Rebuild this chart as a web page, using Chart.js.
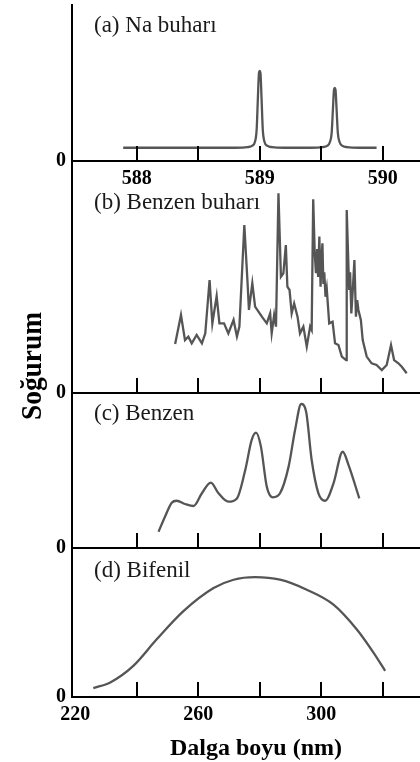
<!DOCTYPE html>
<html>
<head>
<meta charset="utf-8">
<script src="https://cdn.jsdelivr.net/npm/chart.js@4.4.1/dist/chart.umd.min.js"></script>
<style>
  html, body { margin: 0; padding: 0; background: #fff; }
  #wrap { position: relative; width: 420px; height: 762px; overflow: hidden; }
  #wrap canvas { position: absolute; left: 0; top: 0; }
</style>
</head>
<body>
<div id="wrap">
  <canvas id="chartA" width="420" height="762"></canvas>
  <canvas id="chartB" width="420" height="762"></canvas>
  <canvas id="chartC" width="420" height="762"></canvas>
  <canvas id="chartD" width="420" height="762"></canvas>
</div>
<script>
// ---------------- data ----------------
// (a) Na vapour, wavelength axis 588-590 nm
const naWave = [587.89, 588.30, 588.70, 588.80, 588.90, 588.94, 588.96, 588.975, 588.985, 588.994, 589.0, 589.006, 589.015, 589.025, 589.04, 589.06, 589.10, 589.20,
                589.41, 589.51, 589.55, 589.57, 589.585, 589.595, 589.604, 589.61, 589.616, 589.625, 589.635, 589.65, 589.67, 589.71, 589.81, 589.95];
const naAbs  = [8.5, 8.5, 8.5, 8.5, 8.9, 9.8, 12, 20, 40, 56.5, 57.7, 56.5, 40, 20, 12, 9.8, 8.9, 8.5,
                8.5, 8.9, 9.8, 12, 18, 33, 45.7, 46.8, 45.7, 33, 18, 12, 9.8, 8.9, 8.5, 8.5];
const naTicks = [588, 588.5, 589, 589.5, 590];
const naTickLabels = [588, 589, 590];

// (b) benzene vapour
const benzVapWave = [252.5, 254.4, 255.7, 256.8, 257.9, 259.5, 261.2, 262.3, 263.7, 264.6, 266.0, 266.9, 268.4, 269.8, 271.5, 272.6, 273.4,
                     275.0, 276.0, 276.5, 277.6, 278.5, 280.7, 282.3, 283.4, 283.9, 284.7, 285.3,
                     286.1, 286.9, 287.7, 288.5, 289.0, 289.7, 290.4, 291.2, 292.3, 293.1, 294.2, 295.3, 296.4, 296.9,
                     297.4, 297.9, 298.3, 298.7, 299.0, 299.4, 299.8, 300.1, 300.4, 300.7, 301.0, 301.4, 301.8, 302.6, 303.7, 304.5, 305.6, 306.7, 308.1,
                     308.3, 309.1, 309.4, 309.8, 310.3, 310.8, 311.3, 311.7, 312.1, 312.9, 313.5, 314.8, 316.4, 318.0, 319.7, 321.3,
                     322.7, 323.7, 325.1, 326.2, 327.8];
const benzVapAbs  = [21.1, 33.6, 22.8, 24.3, 21.4, 25.0, 21.4, 25.7, 48.7, 30.0, 41.8, 30.0, 30.0, 25.7, 31.5, 24.3, 28.6,
                     72.4, 48.7, 35.8, 47.3, 37.2, 32.9, 30.0, 34.3, 25.7, 33.6, 28.6,
                     86.1, 50.1, 51.6, 63.8, 45.8, 44.4, 34.3, 38.6, 32.9, 25.7, 28.6, 20.0, 28.6, 27.2,
                     83.5, 60.0, 51.6, 62.0, 50.0, 67.4, 45.8, 58.0, 64.5, 47.0, 52.0, 41.5, 45.1, 30.0, 30.7, 21.4, 20.7, 15.7, 14.2,
                     78.9, 44.4, 52.0, 34.3, 45.0, 57.3, 32.9, 40.0, 35.8, 31.5, 22.8, 15.7, 12.8, 12.1, 9.9, 12.1,
                     20.7, 14.2, 12.8, 11.3, 8.5];

// (c) benzene solution
const benzWave = [247.1, 249.2, 251.4, 253.0, 255.7, 258.5, 261.2, 264.1, 266.6, 269.8, 272.6, 275.3, 277.4, 278.8, 280.4, 282.3, 284.3,
                  286.6, 289.4, 291.5, 293.5, 295.1, 296.9, 299.1, 301.3, 304.0, 307.0, 308.9, 312.4];
const benzAbs  = [10.5, 20.2, 29.2, 30.5, 28.4, 27.1, 35.3, 42.2, 35.3, 29.9, 32.0, 50.3, 69.7, 74.4, 65.4, 39.6, 32.7,
                  35.3, 52.5, 76.1, 92.9, 87.9, 56.8, 35.3, 30.5, 41.7, 62.1, 53.5, 32.0];

// (d) biphenyl
const bifWave = [225.9, 231.4, 238.9, 246.5, 255.2, 265.0, 271.5, 278.5, 286.6, 295.3, 304.0, 311.6, 317.0, 320.8];
const bifAbs  = [6.0, 9.8, 20.9, 38.7, 57.6, 73.1, 78.7, 80.4, 78.7, 72.0, 62.0, 45.3, 29.8, 17.6];

const nmTicks = [240, 260, 280, 300, 320];
const nmTickLabels = [220, 260, 300];

// ---------------- shared styling ----------------
const SERIF = '"Liberation Serif", "Times New Roman", serif';
const LINE = '#555555';
Chart.defaults.font.family = SERIF;
Chart.defaults.color = '#000';

// inner ticks, panel caption and the shared axis titles
const panelDeco = {
  id: 'panelDeco',
  afterDraw(chart, args, opts) {
    const { ctx, chartArea } = chart;
    const xs = chart.scales.x;
    ctx.save();
    ctx.strokeStyle = '#000';
    ctx.lineWidth = 2;
    (opts.ticks || []).forEach(v => {
      const px = Math.round(xs.getPixelForValue(v));
      ctx.beginPath();
      ctx.moveTo(px, chartArea.bottom);
      ctx.lineTo(px, chartArea.bottom - 15);
      ctx.stroke();
    });
    if (opts.label) {
      ctx.font = '23px ' + SERIF;
      ctx.fillStyle = '#1a1a1a';
      ctx.textAlign = 'left';
      ctx.textBaseline = 'alphabetic';
      ctx.fillText(opts.label, chartArea.left + 22, chartArea.top + opts.labelDy);
    }
    if (opts.xTitle) {
      ctx.font = 'bold 24px ' + SERIF;
      ctx.fillStyle = '#000';
      ctx.textAlign = 'center';
      ctx.textBaseline = 'alphabetic';
      ctx.fillText(opts.xTitle, 256, 755);
    }
    if (opts.yTitle) {
      ctx.font = 'bold 30px ' + SERIF;
      ctx.fillStyle = '#000';
      const w = ctx.measureText(opts.yTitle).width;
      ctx.translate(41, 366);
      ctx.rotate(-Math.PI / 2);
      ctx.scale(108 / w, 1);
      ctx.textAlign = 'center';
      ctx.textBaseline = 'alphabetic';
      ctx.fillText(opts.yTitle, 0, 0);
    }
    ctx.restore();
  }
};
Chart.register(panelDeco);

function makePanel(id, cfg) {
  const el = document.getElementById(id);
  const pts = cfg.wave.map((w, i) => ({ x: w, y: cfg.abs[i] }));
  return new Chart(el.getContext('2d'), {
    type: 'line',
    data: {
      datasets: [{
        data: pts,
        borderColor: LINE,
        borderWidth: 2.3,
        pointRadius: 0,
        fill: false,
        tension: cfg.smooth ? 0.4 : 0,
        cubicInterpolationMode: cfg.smooth ? 'monotone' : 'default'
      }]
    },
    options: {
      responsive: false,
      animation: false,
      events: [],
      layout: { padding: { left: 0, right: 0, top: cfg.top, bottom: 762 - cfg.bottom - cfg.xh } },
      plugins: {
        legend: { display: false },
        tooltip: { enabled: false },
        panelDeco: { ticks: cfg.ticks, label: cfg.label, labelDy: cfg.labelDy, xTitle: cfg.xTitle, yTitle: cfg.yTitle }
      },
      scales: {
        x: {
          type: 'linear',
          min: cfg.xmin,
          max: cfg.xmax,
          afterBuildTicks: s => { s.ticks = (cfg.tickLabels || []).map(v => ({ value: v })); },
          afterFit: s => { s.height = cfg.xh; s.paddingLeft = 0; s.paddingRight = 0; },
          grid: { drawOnChartArea: false, drawTicks: false },
          border: { display: true, color: '#000', width: 2 },
          ticks: {
            display: !!cfg.tickLabels,
            autoSkip: false,
            maxRotation: 0,
            padding: 6,
            color: '#000',
            font: { size: 20, weight: 'bold' },
            callback: v => String(v)
          }
        },
        y: {
          min: 0,
          max: 100,
          afterBuildTicks: s => { s.ticks = [{ value: 0 }]; },
          afterFit: s => { s.width = 72; s.paddingTop = 0; s.paddingBottom = 0; },
          grid: { drawOnChartArea: false, drawTicks: false },
          border: { display: true, color: '#000', width: 2 },
          ticks: {
            padding: 6,
            color: '#000',
            font: { size: 20, weight: 'bold' },
            callback: () => '0'
          }
        }
      }
    }
  });
}

document.addEventListener('DOMContentLoaded', () => {
  makePanel('chartA', {
    wave: naWave, abs: naAbs, smooth: true,
    top: 5, bottom: 161, xh: 40,
    xmin: 587.474, xmax: 590.303,
    ticks: naTicks, tickLabels: naTickLabels,
    label: '(a) Na buharı', labelDy: 27
  });
  makePanel('chartB', {
    wave: benzVapWave, abs: benzVapAbs, smooth: false,
    top: 161, bottom: 393, xh: 10,
    xmin: 218.96, xmax: 332.13,
    ticks: nmTicks,
    label: '(b) Benzen buharı', labelDy: 48
  });
  makePanel('chartC', {
    wave: benzWave, abs: benzAbs, smooth: true,
    top: 393, bottom: 548, xh: 10,
    xmin: 218.96, xmax: 332.13,
    ticks: nmTicks,
    label: '(c) Benzen', labelDy: 27
  });
  makePanel('chartD', {
    wave: bifWave, abs: bifAbs, smooth: true,
    top: 548, bottom: 697, xh: 65,
    xmin: 218.96, xmax: 332.13,
    ticks: nmTicks, tickLabels: nmTickLabels,
    xTitle: 'Dalga boyu (nm)',
    label: '(d) Bifenil', labelDy: 29,
    yTitle: 'Soğurum'
  });
});
</script>
</body>
</html>
